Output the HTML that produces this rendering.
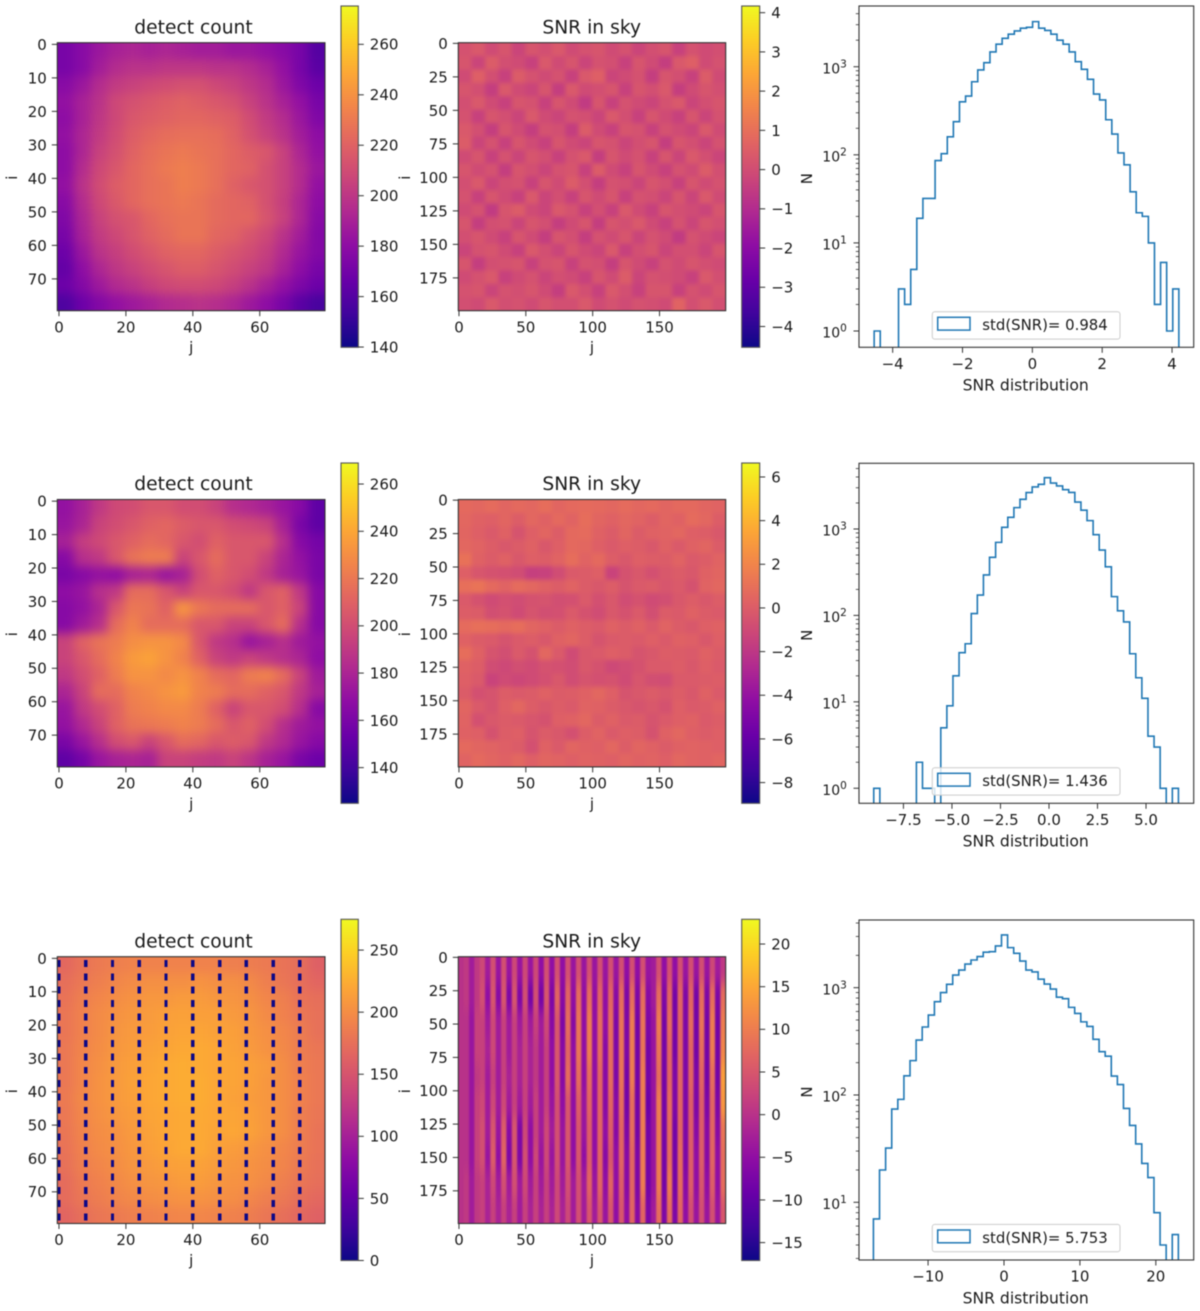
<!DOCTYPE html>
<html lang="en">
<head>
<meta charset="utf-8">
<title>Detect count, SNR in sky and SNR distribution</title>
<style>
html,body{margin:0;padding:0;background:#fff;width:1200px;height:1311px;overflow:hidden}
svg{display:block;filter:blur(0.45px)}
text{font-family:"DejaVu Sans","Liberation Sans",sans-serif;fill:#1a1a1a}
</style>
</head>
<body>
<svg id="figure" xmlns="http://www.w3.org/2000/svg" width="1200" height="1311" viewBox="0 0 1200 1311"></svg>
<script>
// ---------- shared tick labels ----------
const detectTicks = [0, 20, 40, 60];
const detectRowTicks = [0, 10, 20, 30, 40, 50, 60, 70];
const skyTicks = [0, 50, 100, 150];
const skyRowTicks = [0, 25, 50, 75, 100, 125, 150, 175];
const plasmaStops = ['#0d0887','#41049d','#6a00a8','#8f0da4','#b12a90','#cc4778','#e16462','#f1844b','#fca636','#fcce25','#f0f921'];

// ---------- detect count maps (each value = mean of 5x5 pixels) ----------
const detectCountTop = [
[172,178,185,190,192,190,192,190,188,188,185,185,182,178,172,160],
[172,178,188,195,198,198,200,200,200,198,198,195,190,182,172,162],
[178,185,195,202,205,208,210,212,212,208,205,200,195,185,175,168],
[182,190,198,208,212,215,218,220,218,215,212,205,198,190,182,172],
[180,190,200,208,215,218,220,222,222,220,218,210,202,195,185,175],
[182,192,202,210,218,222,225,226,226,225,220,212,205,198,188,180],
[180,192,205,212,220,225,228,230,228,226,222,218,215,205,192,182],
[180,195,208,215,222,226,230,232,230,226,222,220,212,205,195,185],
[182,198,210,218,222,226,228,232,230,226,220,215,212,205,195,182],
[178,195,208,216,222,226,228,230,228,224,222,220,212,204,192,180],
[175,192,205,212,215,222,226,228,228,224,222,222,214,205,192,178],
[172,190,202,208,214,220,224,228,228,222,220,214,208,198,188,176],
[168,185,198,204,210,215,220,222,222,218,214,210,204,194,184,176],
[165,180,192,200,205,210,214,218,218,214,210,205,200,190,180,172],
[168,176,186,194,198,204,208,210,210,208,204,198,190,182,174,168],
[158,168,176,182,186,190,194,196,198,196,192,186,180,172,162,156]];
const detectCountMiddle = [
[170,178,190,198,200,205,205,200,200,195,185,182,178,172,165,150],
[172,180,195,200,205,210,212,208,205,205,200,198,195,178,160,150],
[178,192,198,205,210,215,212,205,200,210,205,205,205,185,165,158],
[165,185,190,205,218,222,222,195,205,215,205,205,195,180,170,160],
[160,165,170,168,178,180,172,178,200,210,205,200,190,178,172,160],
[168,172,185,190,215,215,205,195,205,205,200,190,205,210,190,165],
[165,170,180,205,220,218,210,232,220,215,215,215,205,210,195,165],
[165,175,185,215,225,215,215,215,205,205,195,195,205,215,185,165],
[195,210,218,222,230,232,232,228,205,190,185,172,178,185,175,170],
[195,205,215,225,235,238,232,225,210,195,190,195,190,185,180,168],
[190,200,210,222,232,232,228,232,225,215,212,222,225,215,195,175],
[180,195,215,215,225,228,232,235,225,222,215,215,210,205,190,178],
[172,190,200,210,222,225,228,228,222,210,195,205,205,200,185,165],
[170,182,195,210,218,220,222,225,222,215,205,210,200,185,175,170],
[160,172,185,200,205,195,205,215,212,205,208,205,190,182,172,165],
[150,158,172,178,180,178,195,195,192,190,195,188,178,172,160,155]];
const detectCountBottom = [
[172,182,188,192,195,195,195,195,195,195,192,190,188,182,178,165],
[178,186,192,198,202,205,205,205,208,205,205,200,192,184,178,170],
[182,192,198,204,208,212,212,215,215,212,210,205,198,192,182,178],
[184,194,202,208,212,215,218,220,218,218,214,210,202,194,186,180],
[184,194,202,210,214,216,220,222,222,220,218,212,206,198,190,180],
[186,196,204,212,216,220,222,225,226,224,220,214,208,200,190,184],
[186,198,206,214,218,222,226,228,226,224,222,218,214,204,192,186],
[186,198,208,214,220,224,226,228,228,224,222,218,212,204,194,186],
[188,200,208,214,218,224,226,228,228,224,220,216,212,204,194,186],
[186,198,206,212,216,222,224,226,226,224,222,218,212,204,192,184],
[184,196,204,208,214,220,224,226,226,222,224,220,212,204,192,182],
[182,194,202,206,212,218,222,226,226,220,216,212,206,198,190,182],
[180,192,198,204,210,214,218,220,220,216,212,208,204,196,188,180],
[176,188,194,200,206,210,212,216,216,212,208,206,200,192,184,178],
[176,184,190,196,200,204,206,208,208,206,204,198,192,186,178,172],
[170,178,184,188,192,194,196,198,198,196,194,190,184,178,172,166]];
// dead detector columns in the bottom map: two pixels masked at each listed row
const maskedColumns = [0, 8, 16, 24, 32, 40, 48, 56, 64, 72];
const maskedDashStarts = [1,5,9,13,17,21,25,29,33,37,41,45,49,53,57,61,65,69,73,77];
const maskedCount = [0, 0];

// ---------- SNR sky maps (each value = mean of 10x10 pixels) ----------
const snrSkyTop = [
[.3,.5,.1,.4,-.1,.4,.2,.5,.1,.3,.4,.1,.3,-.1,.2,.4,-.2,.3,.1,.2],
[.4,-.1,.6,.2,.1,-.2,.5,.1,.4,-.1,.3,.2,-.2,.4,.1,-.3,.5,.7,.1,.3],
[.1,.7,.2,-.2,.6,.3,.1,.3,-.2,.5,.7,-.1,.1,.3,-.3,.4,.2,-.2,.6,.1],
[.4,.2,-.3,.5,.1,-.1,.4,-.3,.5,.1,.2,.4,-.2,.4,.2,.5,-.3,.1,.4,.2],
[.2,.5,.1,-.2,.4,.3,-.2,.4,.1,-.4,.4,-.2,.3,.1,-.1,.3,.5,-.1,.2,.4],
[.3,-.2,.4,.2,-.1,.5,.1,-.1,.3,.2,-.1,.5,.2,-.2,.4,.1,-.2,.4,-.1,.3],
[.5,.2,-.3,.4,.1,-.3,.3,.2,-.3,.6,.1,-.2,.4,.3,-.2,.3,.1,-.1,.5,.1],
[.6,-.1,.3,-.2,.4,.1,-.2,.4,.1,-.1,.4,.3,-.1,.2,.4,-.3,.4,.2,-.1,.3],
[.1,.4,-.2,.3,-.1,.4,.2,-.2,.3,.5,-.3,.4,.1,.3,-.2,.4,-.1,.5,.2,-.1],
[.4,.1,.3,-.3,.4,.2,-.1,.3,.4,-.2,.6,.1,-.2,.4,.1,-.2,.3,.1,.6,.2],
[.2,.5,-.1,.2,.3,-.2,.4,.1,.6,.2,-.3,.3,.2,-.1,.4,.2,-.2,.4,.1,.3],
[.3,-.2,.4,.1,-.2,.5,-.1,.2,-.2,.4,.1,.4,-.2,.3,.2,-.1,.4,-.1,.5,.1],
[.1,.3,-.4,.4,.6,.1,-.1,.5,.3,-.2,.2,-.2,.5,.1,-.2,.4,.2,.1,-.1,.4],
[.4,-.3,.2,.3,-.1,.4,.2,-.3,.1,.4,-.3,.4,.2,.5,.1,-.2,.3,-.1,.4,.2],
[.2,.4,.1,-.2,.4,.1,-.3,.4,.2,-.3,.3,.1,.4,-.1,.3,.1,-.4,.3,.1,-.1],
[-.1,.3,.4,.1,-.2,.5,.2,-.1,.4,.1,-.1,.5,-.2,.2,.4,-.1,.2,.2,-.1,.4],
[.4,-.3,.2,.3,.4,-.2,.3,.4,-.2,.3,.2,-.3,.4,.1,-.2,.3,.1,.4,.2,.1],
[.1,.3,.5,-.2,.1,.3,-.1,.2,.1,-.2,.4,.1,.6,-.1,.3,.2,.1,-.2,.5,.2],
[.3,.4,-.1,.3,.2,.4,.1,-.3,.5,.2,-.2,.5,.2,-.2,.4,.4,-.2,.3,.1,.4],
[.2,.1,.5,.2,.3,.1,.4,.2,.2,.5,.1,.3,.1,.3,.2,.1,.8,.2,.5,.2]];
const snrSkyMiddle = [
[1.0,.9,1.1,.8,1.0,.9,1.2,.8,1.0,1.1,1.0,.9,1.1,.9,1.0,.8,1.0,1.0,.8,.7],
[.9,.6,.5,.8,.4,.9,.6,1.0,.7,1.2,.8,.6,.9,.7,.4,.8,.6,1.1,.9,.4],
[.8,.5,.2,.6,-.1,.5,.8,.4,1.0,1.1,.6,.3,.8,.3,.6,.7,.9,.5,.4,.1],
[.9,.7,.4,.1,.3,.6,.1,.5,1.0,.9,.5,.2,.5,.4,.1,.6,.2,.6,.8,.3],
[1.4,.6,.3,.6,.1,.5,.4,.7,1.2,.7,1.0,.4,.1,.5,.4,.3,.7,.2,.4,.7],
[.5,.0,-.2,-.3,-.5,-1.2,-1.1,-.5,.2,.3,.5,-1.0,-.2,.1,-.3,.1,.3,.1,.6,.8],
[1.3,1.5,1.0,.7,1.1,.9,.6,.4,.7,.3,.1,.4,-.1,.2,.3,.0,.2,-.2,.7,.9],
[.2,-.2,-.6,-.3,-.5,-.2,-.1,-.4,-.3,.2,-.3,.1,-.5,-.2,-.6,-.4,.1,.4,.1,.4],
[.4,.3,-.4,-.2,-.6,-.1,-.4,-.3,.2,-.2,-.5,.1,-.2,.2,-.4,.3,.2,.6,.3,.2],
[1.1,1.3,1.2,1.0,1.2,.8,.6,.3,.6,.4,.2,.6,.3,.6,.2,.7,.3,.1,.5,.6],
[.6,.3,.2,-.1,.2,.4,.1,.6,.8,.4,-.1,.2,.3,.2,.5,.2,.6,.5,.1,.5],
[1.2,.6,-.1,-.4,.2,-.2,.9,.2,-.6,.1,.2,.5,.3,-.1,.1,.4,.3,.2,.6,.3],
[.6,.4,-.5,-.7,-.4,-.6,-.2,-.3,-.5,.1,-.2,-.7,-.5,-.2,.2,.2,.4,.1,.5,.2],
[.5,.2,-1.0,-.6,-.8,-.6,-.3,.1,-.5,-.1,-.3,-.2,-.6,.0,-.4,-.5,.2,.2,.3,.4],
[.3,-.3,-.1,.4,.2,.3,.6,.3,.4,.6,.9,.5,-.1,.1,.3,.1,.4,.1,.6,.2],
[.8,.2,-.1,.5,.9,.4,.1,.4,.2,.7,.6,.3,.1,-.1,.1,-.2,.5,.2,.3,.6],
[.7,-.3,.1,.3,.2,.0,-.2,.5,.6,.9,.3,.6,.2,.3,-.1,.2,.5,.6,.2,.4],
[.6,.5,-.2,.4,.5,-.1,.3,.1,-.3,.4,.7,.2,.5,.4,-.2,.6,.9,.5,.3,.5],
[1.0,.8,.7,.5,.3,-.3,.6,.2,.8,.6,.5,.9,.4,.8,.6,.3,.6,.7,.6,.5],
[.7,1.0,.8,.6,.9,.5,.8,.7,.5,.7,.6,.5,.8,.6,.7,.5,.9,.7,.6,.8]];
// bottom map: 10 rows of 20 pixels, 50 columns of 4 pixels
const snrSkyBottom = [
[0,1,-3,1,3,-3,4,-4,4,-4,3,-4,3,-4,3,-5,4,-5,4,-5,4,-4,4,-4,4,-4,4,-4,4,-4,4,-5,4,-5,4,-4,-3,4,-5,4,-5,4,-4,4,-4,4,-4,3,-3,1],
[0,1,-3,1,4,-5,5,-6,5,-7,5,-7,4,-8,4,-8,5,-7,7,-6,7,-5,8,-5,8,-5,7,-5,7,-6,8,-7,8,-7,8,-6,-3,8,-7,7,-8,7,-7,7,-8,8,-7,8,-7,8],
[0,0,-4,2,2,-3,3,-3,2,-3,2,-3,2,-3,2,-3,3,-6,5,-7,8,-6,9,-5,10,-5,8,-5,8,-7,9,-7,10,-8,9,-7,-4,10,-8,8,-8,7,-7,8,-8,9,-8,10,-8,10],
[0,0,-4,2,2,-2,3,-3,2,-3,2,-2,2,-2,1,-3,2,-5,5,-6,7,-5,9,-5,10,-5,8,-6,8,-7,9,-7,10,-8,9,-8,-4,9,-8,7,-8,7,-7,7,-8,8,-8,10,-8,11],
[0,0,-4,1,2,-3,2,-3,2,-2,2,-2,2,-2,1,-3,2,-5,5,-6,8,-5,8,-5,8,-5,7,-6,8,-7,9,-8,10,-8,10,-8,-4,8,-8,7,-7,7,-7,7,-7,7,-8,8,-8,14],
[0,0,-4,2,3,-3,3,-3,3,-3,2,-3,2,-3,2,-3,2,-4,4,-5,5,-5,6,-4,7,-5,7,-6,7,-6,8,-8,8,-8,10,-9,-4,10,-8,8,-7,7,-7,6,-7,6,-7,7,-7,13],
[0,0,-4,2,4,-3,5,-4,6,-6,5,-7,3,-5,2,-3,3,-3,4,-4,5,-5,5,-4,6,-5,7,-5,6,-6,7,-7,8,-8,10,-8,-4,10,-8,8,-8,7,-7,6,-6,6,-6,7,-6,9],
[0,0,-4,2,4,-4,6,-5,7,-7,5,-7,4,-5,3,-4,3,-4,4,-4,5,-5,5,-5,6,-5,7,-6,5,-5,7,-6,7,-7,10,-8,-4,10,-8,8,-8,8,-7,6,-5,6,-6,7,-5,8],
[0,1,-3,1,2,-2,3,-3,4,-3,4,-3,3,-3,2,-3,2,-3,3,-3,4,-3,4,-3,7,-4,7,-5,7,-5,6,-6,7,-7,10,-8,-4,10,-8,10,-8,8,-6,6,-5,5,-5,6,-5,8],
[0,1,-3,1,2,-2,2,-2,2,-2,2,-3,2,-2,2,-2,2,-2,3,-2,3,-3,4,-3,5,-3,5,-4,5,-5,5,-5,7,-6,7,-7,-3,8,-7,8,-7,7,-5,4,-4,4,-4,4,-4,5]];

// ---------- colorbar tick labels ----------
const cbarTicksDetectTop = [140,160,180,200,220,240,260];
const cbarTicksDetectMiddle = [140,160,180,200,220,240,260];
const cbarTicksDetectBottom = [0,50,100,150,200,250];
const cbarTicksSkyTop = [-4,-3,-2,-1,0,1,2,3,4];
const cbarTicksSkyMiddle = [-8,-6,-4,-2,0,2,4,6];
const cbarTicksSkyBottom = [-15,-10,-5,0,5,10,15,20];

// ---------- SNR histograms (50 bins each) ----------
const histCountsTop = [1,0,0,0,3,2,5,19,32,32,86,103,160,238,400,465,675,920,1110,1470,1800,2100,2340,2550,2740,2800,3250,2740,2580,2340,2000,1800,1470,1140,935,720,490,420,250,172,105,77,38,22,20,10,2,6,1,3];
const histCountsMiddle = [1,0,0,0,0,0,0,2,1,1,0,5,9,20,37,47,105,172,294,470,700,1047,1365,1767,2206,2636,3063,3289,3926,3400,3150,2850,2650,2050,1650,1250,860,570,365,165,113,84,36,19,11,4,3,1,0,1];
const histCountsBottom = [7,20,32,74,91,151,209,325,430,555,740,900,1075,1310,1460,1660,1810,1950,2140,2165,2450,3100,2360,2090,1770,1460,1400,1200,1080,970,815,790,655,575,480,435,330,253,230,150,125,75,52,35,23,17,8,4,0,5];
const histXTicksTop = [-4,-2,0,2,4];
const histXTicksMiddle = [-7.5,-5,-2.5,0,2.5,5];
const histXTicksBottom = [-10,0,10,20];
const histDecades = [0,1,2,3];
const histMinorFactors = [2,3,4,5,6,7,8,9];

// ---------- helpers ----------
const NS = 'http://www.w3.org/2000/svg';
const root = document.getElementById('figure');
function mk(tag, attrs, parent, txt) {
  const el = document.createElementNS(NS, tag);
  for (const k in attrs) el.setAttribute(k, attrs[k]);
  if (txt !== undefined) el.textContent = txt;
  parent.appendChild(el);
  return el;
}
function fmt(v, digits) {
  const s = Math.abs(v).toFixed(digits);
  return (v < 0 ? '\u2212' : '') + s;
}
function plasma(t) {
  t = Math.max(0, Math.min(1, t)) * (plasmaStops.length - 1);
  const i = Math.min(plasmaStops.length - 2, Math.floor(t));
  const f = t - i;
  const p = c => [1, 3, 5].map(n => parseInt(c.substr(n, 2), 16));
  const a = p(plasmaStops[i]), b = p(plasmaStops[i + 1]);
  return 'rgb(' + a.map((v, n) => Math.round(v + (b[n] - v) * f)).join(',') + ')';
}
let uid = 0;
const defs = mk('defs', {}, root);
const SPINE = '#333';
const TICK = '#333';
const FS = 15;

// ---------- heatmap + colorbar ----------
function drawHeatmap(cfg) {
  const g = mk('g', {}, root);
  
  
  const L = cfg.left, T = cfg.top, W = cfg.width, H = cfg.height;
  const sx = v => L + (v + 0.5) / cfg.extent * W;
  const sy = v => T + (v + 0.5) / cfg.extent * H;
  const norm = v => (v - cfg.vmin) / (cfg.vmax - cfg.vmin);
  const clipId = 'clip' + (++uid);
  const clip = mk('clipPath', { id: clipId }, defs);
  mk('rect', { x: L, y: T, width: W, height: H }, clip);
  const clipped = mk('g', { 'clip-path': 'url(#' + clipId + ')' }, g);
  const filterId = 'smooth' + (++uid);
  const filt = mk('filter', { id: filterId, filterUnits: 'userSpaceOnUse', x: L - 30, y: T - 30, width: W + 60, height: H + 60, 'color-interpolation-filters': 'sRGB' }, defs);
  mk('feGaussianBlur', { stdDeviation: cfg.smooth }, filt);
  const cells = mk('g', { filter: 'url(#' + filterId + ')' }, clipped);
  const rows = cfg.matrix.length, cols = cfg.matrix[0].length;
  const du = cfg.extent / cols, dv = cfg.extent / rows;
  const bleed = 28;
  cfg.matrix.forEach((row, r) => row.forEach((val, c) => {
    let x0 = sx(c * du - 0.5), x1 = sx((c + 1) * du - 0.5);
    let y0 = sy(r * dv - 0.5), y1 = sy((r + 1) * dv - 0.5);
    if (c === 0) x0 -= bleed;
    if (c === cols - 1) x1 += bleed;
    if (r === 0) y0 -= bleed;
    if (r === rows - 1) y1 += bleed;
    const cell = mk('rect', { x: x0, y: y0, width: x1 - x0 + 0.6, height: y1 - y0 + 0.6, fill: plasma(norm(val + cfg.bias)) }, cells);
    
    
  }));
  if (cfg.maskCols) {
    cfg.maskCols.forEach(j => cfg.maskStarts.forEach(i => cfg.maskValues.forEach((val, k) => {
      const px = mk('rect', { x: sx(j - 0.5), y: sy(i + k - 0.5), width: W / cfg.extent, height: H / cfg.extent + 0.3, fill: plasma(norm(val)), 'shape-rendering': 'crispEdges' }, clipped);
      
      
    })));
  }
  const frame = mk('rect', { x: L, y: T, width: W, height: H, fill: 'none', stroke: SPINE, 'stroke-width': 1.1 }, g);
  
  
  cfg.xTicks.forEach(v => {
    const t = mk('line', { x1: sx(v), x2: sx(v), y1: T + H, y2: T + H + 5.5, stroke: TICK, 'stroke-width': 1 }, g);
    
    
    const l = mk('text', { x: sx(v), y: T + H + 21.6, 'font-size': FS, 'text-anchor': 'middle' }, g, String(v));
    
    
  });
  cfg.yTicks.forEach(v => {
    const t = mk('line', { x1: L - 5.5, x2: L, y1: sy(v), y2: sy(v), stroke: TICK, 'stroke-width': 1 }, g);
    
    
    const l = mk('text', { x: L - 10.5, y: sy(v) + 5.4, 'font-size': FS, 'text-anchor': 'end' }, g, String(v));
    
    
  });
  const title = mk('text', { x: cfg.titleX, y: T - 9.4, 'font-size': 18.7, 'text-anchor': 'middle' }, g, cfg.title);
  
  
  const xl = mk('text', { x: L + W / 2, y: T + H + 42, 'font-size': FS, 'text-anchor': 'middle' }, g, 'j');
  
  
  const yl = mk('text', { x: cfg.yLabelX, y: T + H / 2 + 1, 'font-size': FS, 'text-anchor': 'middle', transform: 'rotate(-90 ' + cfg.yLabelX + ' ' + (T + H / 2 + 1) + ')' }, g, 'i');
  
  

  // colorbar
  const cb = mk('g', {}, root);
  
  
  const gid = 'grad' + (++uid);
  const grad = mk('linearGradient', { id: gid, x1: 0, y1: 1, x2: 0, y2: 0 }, defs);
  plasmaStops.forEach((c, i) => mk('stop', { offset: i / (plasmaStops.length - 1), 'stop-color': c }, grad));
  const bar = mk('rect', { x: cfg.cbX, y: cfg.cbTop, width: cfg.cbW, height: cfg.cbH, fill: 'url(#' + gid + ')', stroke: '#555', 'stroke-width': 1.1 }, cb);
  
  
  const cy = v => cfg.cbTop + cfg.cbH * (1 - norm(v));
  cfg.cbTicks.forEach(v => {
    const t = mk('line', { x1: cfg.cbX + cfg.cbW, x2: cfg.cbX + cfg.cbW + 5.5, y1: cy(v), y2: cy(v), stroke: TICK, 'stroke-width': 1 }, cb);
    
    
    const l = mk('text', { x: cfg.cbX + cfg.cbW + 11.5, y: cy(v) + 5.4, 'font-size': FS }, cb, fmt(v, 0));
    
    
  });
}

// ---------- histogram ----------
function drawHist(cfg) {
  const g = mk('g', {}, root);
  
  
  const L = 859, W = 334.7, T = cfg.top, H = cfg.height;
  const sx = v => L + (v - cfg.xMin) / (cfg.xMax - cfg.xMin) * W;
  const sy = v => T + H - (Math.log10(v) - Math.log10(cfg.yMin)) / (Math.log10(cfg.yMax) - Math.log10(cfg.yMin)) * H;
  const clipId = 'clip' + (++uid);
  const clip = mk('clipPath', { id: clipId }, defs);
  mk('rect', { x: L, y: T, width: W, height: H }, clip);
  const below = T + H + 6;
  let d = 'M' + sx(cfg.binStart) + ' ' + below;
  cfg.counts.forEach((n, k) => {
    const y = n > 0 ? sy(n) : below;
    d += 'L' + sx(cfg.binStart + k * cfg.binWidth) + ' ' + y + 'L' + sx(cfg.binStart + (k + 1) * cfg.binWidth) + ' ' + y;
  });
  d += 'L' + sx(cfg.binStart + cfg.counts.length * cfg.binWidth) + ' ' + below;
  const line = mk('path', { d: d, fill: 'none', stroke: '#1f77b4', 'stroke-width': 1.6, 'clip-path': 'url(#' + clipId + ')' }, g);
  
  
  const frame = mk('rect', { x: L, y: T, width: W, height: H, fill: 'none', stroke: SPINE, 'stroke-width': 1.1 }, g);
  
  
  cfg.xTicks.forEach(v => {
    const t = mk('line', { x1: sx(v), x2: sx(v), y1: T + H, y2: T + H + 5.5, stroke: TICK, 'stroke-width': 1 }, g);
    
    
    const l = mk('text', { x: sx(v), y: T + H + 21.7, 'font-size': FS, 'text-anchor': 'middle' }, g, fmt(v, cfg.xDigits));
    
    
  });
  const lo = Math.log10(cfg.yMin), hi = Math.log10(cfg.yMax);
  histDecades.forEach(e => {
    const base = Math.pow(10, e);
    if (e >= lo && e <= hi) {
      const t = mk('line', { x1: L - 5.5, x2: L, y1: sy(base), y2: sy(base), stroke: TICK, 'stroke-width': 1 }, g);
      
      
      const l = mk('text', { x: 822.3, y: sy(base) + 6.6, 'font-size': 14 }, g);
      
      
      mk('tspan', {}, l, '10');
      mk('tspan', { dy: -6, 'font-size': 10.5 }, l, String(e));
    }
    histMinorFactors.forEach(f => {
      const v = base * f;
      if (v < cfg.yMin || v > cfg.yMax) return;
      const t = mk('line', { x1: L - 3.2, x2: L, y1: sy(v), y2: sy(v), stroke: TICK, 'stroke-width': 0.8 }, g);
      
      
    });
  });
  const xl = mk('text', { x: 1025.7, y: T + H + 43.4, 'font-size': 15.6, 'text-anchor': 'middle' }, g, 'SNR distribution');
  
  
  const ny = T + H / 2 + 2;
  const yl = mk('text', { x: 812, y: ny, 'font-size': FS, 'text-anchor': 'middle', transform: 'rotate(-90 812 ' + ny + ')' }, g, 'N');
  
  
  // legend
  const lg = mk('g', {}, g);
  
  
  const by = T + H - 35.6;
  const box = mk('rect', { x: 932.3, y: by, width: 187.7, height: 27.4, rx: 2.5, fill: 'rgba(255,255,255,0.8)', stroke: '#ccc', 'stroke-width': 1 }, lg);
  
  
  const sw = mk('rect', { x: 937.7, y: by + 5.6, width: 32.3, height: 12.8, fill: 'none', stroke: '#1f77b4', 'stroke-width': 1.5 }, lg);
  
  
  const lt = mk('text', { x: 982.3, y: by + 18.4, 'font-size': 14.9 }, lg, cfg.legend);
  
  
}

// ---------- layout ----------
const detectLayout = { left: 57.3, width: 267.7, extent: 80, xTicks: detectTicks, yTicks: detectRowTicks, title: 'detect count', titleX: 193.5, yLabelX: 17, cbX: 341, cbW: 17.3, smooth: 5 };
const skyLayout = { left: 458.3, width: 267.4, extent: 200, xTicks: skyTicks, yTicks: skyRowTicks, title: 'SNR in sky', titleX: 591.7, yLabelX: 410, cbX: 741.7, cbW: 18, smooth: 2 };

drawHeatmap(Object.assign({}, detectLayout, { name: 'detect-count-map-top', top: 42.7, height: 268, matrix: detectCountTop, bias: 0, vmin: 139.9, vmax: 275.2, cbTop: 6, cbH: 341.3, cbTicks: cbarTicksDetectTop }));
drawHeatmap(Object.assign({}, skyLayout, { name: 'snr-sky-map-top', top: 42.7, height: 268, matrix: snrSkyTop, bias: -0.15, vmin: -4.53, vmax: 4.17, cbTop: 6, cbH: 341.3, cbTicks: cbarTicksSkyTop }));
drawHist({ name: 'snr-histogram-top', top: 6, height: 341.3, counts: histCountsTop, binStart: -4.53, binWidth: 0.1745, xMin: -4.964, xMax: 4.62, yMin: 0.653, yMax: 4890, xTicks: histXTicksTop, xDigits: 0, legend: 'std(SNR)= 0.984' });

drawHeatmap(Object.assign({}, detectLayout, { name: 'detect-count-map-middle', top: 499.5, height: 267.4, matrix: detectCountMiddle, bias: 0, vmin: 124.9, vmax: 268.9, cbTop: 463, cbH: 340.3, cbTicks: cbarTicksDetectMiddle }));
drawHeatmap(Object.assign({}, skyLayout, { name: 'snr-sky-map-middle', top: 499.5, height: 267.4, matrix: snrSkyMiddle, bias: -0.35, vmin: -8.95, vmax: 6.64, cbTop: 463, cbH: 340.3, cbTicks: cbarTicksSkyMiddle }));
drawHist({ name: 'snr-histogram-middle', top: 463.3, height: 340, counts: histCountsMiddle, binStart: -9.03, binWidth: 0.314, xMin: -9.79, xMax: 7.457, yMin: 0.67, yMax: 5755, xTicks: histXTicksMiddle, xDigits: 1, legend: 'std(SNR)= 1.436' });

drawHeatmap(Object.assign({}, detectLayout, { name: 'detect-count-map-bottom', top: 956.7, height: 266.8, matrix: detectCountBottom, bias: -4, vmin: 0, vmax: 274.8, cbTop: 919.3, cbH: 341.2, cbTicks: cbarTicksDetectBottom, maskCols: maskedColumns, maskStarts: maskedDashStarts, maskValues: maskedCount }));
drawHeatmap(Object.assign({}, skyLayout, { name: 'snr-sky-map-bottom', top: 956.7, height: 266.8, matrix: snrSkyBottom, bias: 0, smooth: '0.8 7', vmin: -17.1, vmax: 22.9, cbTop: 919.3, cbH: 341.2, cbTicks: cbarTicksSkyBottom }));
drawHist({ name: 'snr-histogram-bottom', top: 920, height: 340, counts: histCountsBottom, binStart: -17.2, binWidth: 0.8034, xMin: -19.1, xMax: 24.99, yMin: 2.9, yMax: 4270, xTicks: histXTicksBottom, xDigits: 0, legend: 'std(SNR)= 5.753' });
</script>
</body>
</html>
